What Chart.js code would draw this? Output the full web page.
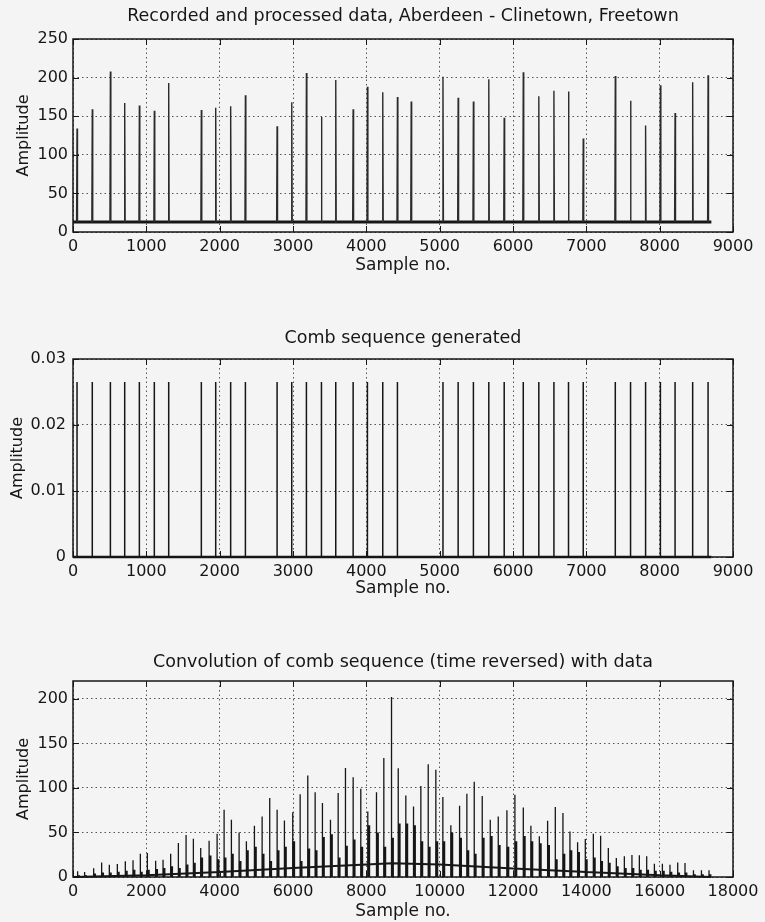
<!DOCTYPE html>
<html>
<head>
<meta charset="utf-8">
<title>Aberdeen - Clinetown pulse processing</title>
<script src="https://cdn.jsdelivr.net/npm/chart.js@4.4.0/dist/chart.umd.min.js"></script>
<style>
  body { margin: 0; background: #f4f4f4; }
  #wrap { position: relative; width: 765px; height: 922px; }
  canvas { position: absolute; left: 0; }
</style>
</head>
<body>
<div id="wrap">
  <canvas id="recorded" width="765" height="280" style="top:0px"></canvas>
  <canvas id="comb" width="765" height="300" style="top:305px"></canvas>
  <canvas id="conv" width="765" height="302" style="top:620px"></canvas>
</div>
<script>
// Recorded data: pulse positions (sample no.) and peak amplitudes
const pulseSamples = [55, 263, 510, 705, 905, 1109, 1305, 1750, 1946, 2150, 2351, 2783, 2983, 3183, 3388, 3583, 3820, 4015, 4224, 4424, 4612, 5045, 5252, 5460, 5670, 5880, 6140, 6352, 6558, 6757, 6958, 7395, 7603, 7808, 8010, 8210, 8450, 8660];
const pulseAmps = [134, 159, 208, 167, 164, 157, 193, 158, 161, 163, 177, 137, 168, 206, 149, 197, 159, 188, 181, 175, 169, 201, 174, 169, 198, 148, 207, 176, 183, 182, 121, 202, 170, 138, 190, 154, 194, 203];
const noiseFloor = 13;
const recordEnd = 8705;

// Comb sequence: one tooth per detected pulse
const combSamples = [55, 263, 510, 705, 905, 1109, 1305, 1750, 1946, 2150, 2351, 2783, 2983, 3183, 3388, 3583, 3820, 4015, 4224, 4424, 5045, 5252, 5460, 5670, 5880, 6140, 6352, 6558, 6757, 6958, 7395, 7603, 7808, 8010, 8210, 8450, 8660];
const combHeight = 0.0265;

// Convolution output: main peaks, the shorter lobe beside each, and the slow envelope
const convSamples = [126, 317, 563, 781, 991, 1209, 1427, 1637, 1837, 2028, 2254, 2456, 2664, 2874, 3084, 3283, 3483, 3712, 3930, 4121, 4320, 4530, 4729, 4948, 5158, 5365, 5567, 5766, 5993, 6195, 6403, 6604, 6803, 7022, 7232, 7431, 7641, 7849, 8040, 8277, 8477, 8687, 8870, 9077, 9287, 9487, 9688, 9896, 10087, 10305, 10543, 10742, 10943, 11161, 11380, 11598, 11834, 12052, 12281, 12488, 12718, 12944, 13154, 13362, 13553, 13762, 13972, 14191, 14390, 14600, 14818, 15037, 15244, 15446, 15646, 15856, 16074, 16281, 16492, 16691, 16921, 17139, 17346];
const convPeaks = [6.4, 5.6, 9.7, 16.4, 13.8, 14.6, 17.6, 18.7, 26.2, 26.9, 18.3, 19.4, 26.2, 38.1, 47.1, 43, 32.5, 40.7, 48.6, 75.5, 64.3, 50, 40, 57.5, 68, 88.6, 75.5, 63.5, 72.8, 93, 114, 95, 83, 64.3, 94.2, 122.3, 112, 99, 73.5, 95, 133.5, 202, 122, 91.6, 79, 102.2, 126.5, 120.4, 89.7, 58, 80, 93.5, 107, 91, 64.3, 68, 74.8, 92.3, 78, 57.6, 45.6, 63.2, 78.5, 71.8, 51.2, 38.9, 42.6, 48.6, 46.4, 32.5, 21.3, 23.2, 24.7, 24.3, 23.2, 15, 15, 13.8, 16.4, 15.7, 7.5, 7.5, 7.5];
const convLobes = [2, 2, 4, 5, 5, 6, 7, 8, 6, 8, 9, 10, 12, 10, 14, 16, 22, 24, 20, 22, 26, 18, 30, 34, 26, 18, 30, 34, 40, 18, 32, 30, 45, 48, 22, 35, 42, 34, 58, 50, 34, 44, 60, 60, 58, 40, 34, 40, 40, 50, 44, 30, 26, 44, 46, 36, 34, 40, 46, 40, 38, 36, 20, 26, 30, 28, 20, 22, 18, 16, 12, 10, 10, 8, 8, 7, 7, 6, 5, 5, 3, 3, 3];
const envSamples = [0, 2000, 4000, 6000, 8000, 8700, 10000, 12000, 14000, 16000, 17400];
const envLevels = [0, 2, 5.5, 10, 14, 15.5, 14, 9.5, 5.5, 2, 0];

const recTicksX = [0, 9000, 1000];
const recTicksY = [0, 250, 50];
const combTicksY = [0, 0.03, 0.01];
const convTicksX = [0, 18000, 2000];
const convTicksY = [0, 220, 50];

const INK = '#161616';
const FONT = 'DejaVu Sans';

// vertical spikes rising from a floor level
function spikes(xs, ys, floor, half) {
  const pts = [];
  xs.forEach((x, i) => {
    pts.push({x: x - half, y: floor}, {x: x, y: ys[i]}, {x: x + half, y: floor}, {x: x, y: null});
  });
  return pts;
}

// boxed axes with inward tick marks on all four sides, title centred on the box
const frame = {
  id: 'frame',
  afterDraw(chart, args, opts) {
    const {ctx, chartArea: a, scales: {x, y}} = chart;
    ctx.save();
    ctx.strokeStyle = INK;
    ctx.lineWidth = 1;
    ctx.beginPath();
    x.ticks.forEach(t => {
      const px = Math.round(x.getPixelForValue(t.value)) + 0.5;
      ctx.moveTo(px, a.bottom); ctx.lineTo(px, a.bottom - 6);
      ctx.moveTo(px, a.top); ctx.lineTo(px, a.top + 6);
    });
    y.ticks.forEach(t => {
      const py = Math.round(y.getPixelForValue(t.value)) + 0.5;
      ctx.moveTo(a.left, py); ctx.lineTo(a.left + 6, py);
      ctx.moveTo(a.right, py); ctx.lineTo(a.right - 6, py);
    });
    ctx.stroke();
    ctx.lineWidth = 1.5;
    ctx.strokeRect(a.left, a.top, a.right - a.left, a.bottom - a.top);

    ctx.fillStyle = INK;
    ctx.font = '17.5px "' + FONT + '"';
    ctx.textAlign = 'center';
    ctx.textBaseline = 'middle';
    ctx.fillText(opts.text, (a.left + a.right) / 2, opts.y);
    ctx.restore();
  }
};

function axesOptions(o) {
  return {
    responsive: false,
    animation: false,
    devicePixelRatio: 1,
    layout: {padding: {left: 0, right: 32, top: o.top, bottom: 0}},
    plugins: {
      legend: {display: false},
      tooltip: {enabled: false},
      frame: {text: o.title, y: o.titleY}
    },
    scales: {
      x: {
        type: 'linear',
        min: o.xTicks[0], max: o.xTicks[1],
        afterFit: s => { s.height = o.axisHeight; },
        ticks: {
          stepSize: o.xTicks[2], autoSkip: false, maxRotation: 0,
          color: INK, padding: 5,
          font: {family: FONT, size: 16},
          callback: v => String(v)
        },
        grid: {color: '#555', lineWidth: 1, drawTicks: false},
        border: {display: false, dash: [1.5, 3]},
        title: {
          display: true, text: 'Sample no.', color: INK,
          font: {family: FONT, size: 17},
          padding: {top: 0, bottom: o.xTitlePad}
        }
      },
      y: {
        min: o.yTicks[0], max: o.yTicks[1],
        afterFit: s => { s.width = 73; },
        afterBuildTicks: s => { s.ticks = s.ticks.filter(t => t.value <= o.yTop + 1e-9); },
        ticks: {
          stepSize: o.yTicks[2], color: INK, padding: o.yPad,
          font: {family: FONT, size: 16},
          callback: o.yFormat
        },
        grid: {color: '#555', lineWidth: 1, drawTicks: false},
        border: {display: false, dash: [1.5, 3]},
        title: {
          display: true, text: 'Amplitude', color: INK,
          font: {family: FONT, size: 16},
          padding: {top: o.yTitlePad, bottom: 0}
        }
      }
    }
  };
}

const lineStyle = {pointRadius: 0, tension: 0, spanGaps: false, borderJoinStyle: 'bevel', clip: 4};

new Chart(document.getElementById('recorded'), {
  type: 'line',
  data: {
    datasets: [
      Object.assign({data: spikes(pulseSamples, pulseAmps, noiseFloor, 6), borderColor: '#2b2b2b', borderWidth: 1.4}, lineStyle),
      Object.assign({data: [{x: 0, y: noiseFloor}, {x: recordEnd, y: noiseFloor}], borderColor: INK, borderWidth: 3}, lineStyle)
    ]
  },
  options: axesOptions({
    title: 'Recorded and processed data, Aberdeen - Clinetown, Freetown',
    top: 39, titleY: 16, axisHeight: 48, xTitlePad: 4,
    xTicks: recTicksX, yTicks: recTicksY, yTop: 250, yPad: 5, yTitlePad: 14,
    yFormat: v => String(v)
  }),
  plugins: [frame]
});

new Chart(document.getElementById('comb'), {
  type: 'line',
  data: {
    datasets: [
      Object.assign({data: spikes(combSamples, combSamples.map(() => combHeight), 0, 0), borderColor: INK, borderWidth: 1.5}, lineStyle),
      Object.assign({data: [{x: 0, y: 0}, {x: recordEnd, y: 0}], borderColor: INK, borderWidth: 2.5}, lineStyle)
    ]
  },
  options: axesOptions({
    title: 'Comb sequence generated',
    top: 54, titleY: 33, axisHeight: 48, xTitlePad: 6,
    xTicks: recTicksX, yTicks: combTicksY, yTop: 0.03, yPad: 7, yTitlePad: 8,
    yFormat: v => v === 0 ? '0' : v.toFixed(2)
  }),
  plugins: [frame]
});

new Chart(document.getElementById('conv'), {
  type: 'line',
  data: {
    datasets: [
      Object.assign({data: envSamples.map((x, i) => ({x: x, y: envLevels[i]})), borderColor: INK, borderWidth: 2}, lineStyle),
      Object.assign({data: spikes(convSamples, convPeaks, 0, 0), borderColor: INK, borderWidth: 1.3}, lineStyle),
      Object.assign({data: spikes(convSamples.map(x => x + 30), convLobes, 0, 0), borderColor: INK, borderWidth: 2.6}, lineStyle)
    ]
  },
  options: axesOptions({
    title: 'Convolution of comb sequence (time reversed) with data',
    top: 61, titleY: 42, axisHeight: 45, xTitlePad: 0,
    xTicks: convTicksX, yTicks: convTicksY, yTop: 200, yPad: 5, yTitlePad: 14,
    yFormat: v => String(v)
  }),
  plugins: [frame]
});
</script>
</body>
</html>
